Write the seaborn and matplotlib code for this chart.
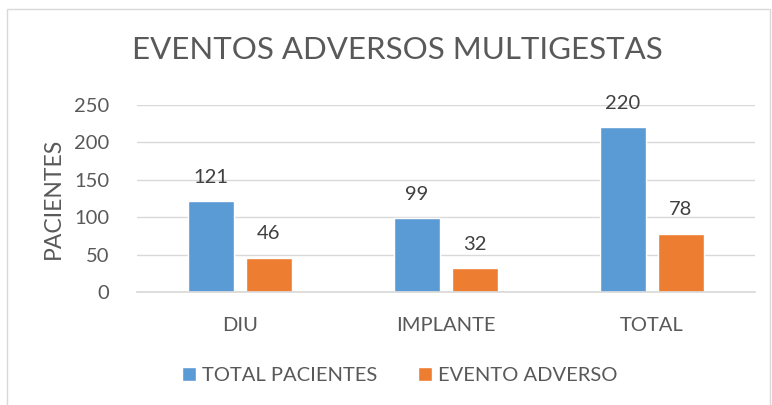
import matplotlib
matplotlib.use("Agg")
import matplotlib.pyplot as plt
import seaborn as sns
import pandas as pd
from matplotlib.patches import Rectangle

categories = ["DIU", "IMPLANTE", "TOTAL"]
total_pacientes = [121, 99, 220]
evento_adverso = [46, 32, 78]
series_names = ["TOTAL PACIENTES", "EVENTO ADVERSO"]
yticks = [0, 50, 100, 150, 200, 250]

df = pd.DataFrame({
    "cat": categories * 2,
    "serie": [series_names[0]] * 3 + [series_names[1]] * 3,
    "val": total_pacientes + evento_adverso,
})

sns.set_theme(style="white")
plt.rcParams['font.family'] = ['Lato', 'DejaVu Sans']
gray = "#595959"

fig = plt.figure(figsize=(7.72, 4.05), dpi=100)
ax = fig.add_axes([137/772, 1 - 292/405, (755-137)/772, (292-105)/405])

sns.barplot(data=df, x="cat", y="val", hue="serie", order=categories,
            hue_order=series_names, palette=["#5b9bd5", "#ed7d31"],
            width=0.563, gap=0.21, saturation=1, ax=ax, legend=True)

for cont in ax.containers:
    ax.bar_label(cont, padding=11, fontsize=14.5, color="#404040")

ax.set_ylim(0, 250)
ax.set_xlim(-0.5, 2.5)
ax.set_yticks(yticks)
ax.set_yticklabels([str(t) for t in yticks])
ax.grid(axis="y", color="#d9d9d9", linewidth=1)
ax.set_axisbelow(True)
for s in ["top", "right", "left"]:
    ax.spines[s].set_visible(False)
ax.spines["bottom"].set_color("#d9d9d9")
ax.tick_params(axis="both", length=0, labelsize=14.5, colors=gray)
ax.tick_params(axis="x", pad=18)
ax.tick_params(axis="y", pad=20)
ax.set_xlabel("")
ax.set_ylabel("PACIENTES", fontsize=16.5, color=gray, labelpad=7)

leg = ax.legend(loc="center", bbox_to_anchor=((400-137)/618, -0.445), ncol=2,
                frameon=False, fontsize=14.5, handlelength=0.7, handleheight=0.7,
                handletextpad=0.3, columnspacing=2.0)
for t in leg.get_texts():
    t.set_color(gray)

fig.text(397/772, 1 - 50/405, "EVENTOS ADVERSOS MULTIGESTAS", ha="center",
         va="center", fontsize=22.5, color=gray)

fig.patches.append(Rectangle((7/772, -0.05), (770-7)/772, 1.05 - 9/405,
                             transform=fig.transFigure, fill=False,
                             edgecolor="#d9d9d9", linewidth=1))

fig.savefig("out.png", dpi=100)
